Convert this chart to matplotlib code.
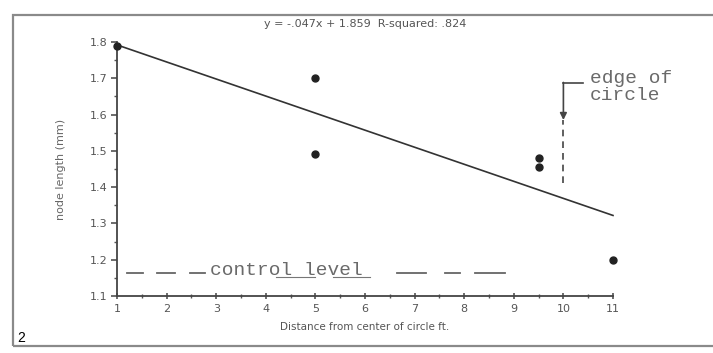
import matplotlib
matplotlib.use("Agg")
import matplotlib.pyplot as plt
from matplotlib.patches import Rectangle
from matplotlib.ticker import MultipleLocator

# Data
dist_ft = [1, 5, 5, 9.5, 9.5, 11]
node_len = [1.79, 1.70, 1.49, 1.48, 1.455, 1.20]
fit_x = [1, 11]
fit_y = [1.792, 1.322]
x_ticks = [1, 2, 3, 4, 5, 6, 7, 8, 9, 10, 11]
y_ticks = [1.1, 1.2, 1.3, 1.4, 1.5, 1.6, 1.7, 1.8]
control_level = 1.163
control_segments = [(1.2, 1.53), (1.81, 2.17), (2.47, 2.78),
                    (6.65, 7.22), (7.62, 7.92), (8.22, 8.82)]
edge_x = 10
title_text = "y = -.047x + 1.859  R-squared: .824"

W, H = 713, 353
fig = plt.figure(figsize=(W / 100, H / 100), dpi=100)
fig.patch.set_facecolor("white")

# outer scanned frame
fig.add_artist(Rectangle((13 / W, 1 - 346 / H), (720 - 13) / W, (346 - 15) / H,
                         transform=fig.transFigure, fill=False,
                         edgecolor="#8a8a8a", linewidth=1.6))

ax = fig.add_axes([117 / W, 1 - 296 / H, (613 - 117) / W, (296 - 42) / H])
ax.set_xlim(1, 11)
ax.set_ylim(1.1, 1.8)
for s in ["top", "right"]:
    ax.spines[s].set_visible(False)
for s in ["left", "bottom"]:
    ax.spines[s].set_color("#444444")
    ax.spines[s].set_linewidth(1.3)

ax.set_xticks(x_ticks)
ax.set_yticks(y_ticks)
ax.set_yticklabels([f"{v:.1f}" for v in y_ticks])
ax.xaxis.set_minor_locator(MultipleLocator(0.5))
ax.yaxis.set_minor_locator(MultipleLocator(0.05))
ax.tick_params(axis="y", which="major", direction="out", length=4, width=1.1,
               colors="#444444", labelcolor="#555555", labelsize=8, pad=3)
ax.tick_params(axis="y", which="minor", direction="out", length=2, width=1,
               colors="#555555")
ax.tick_params(axis="x", which="major", direction="inout", length=5, width=1.1,
               colors="#444444", labelcolor="#555555", labelsize=8, pad=3)
ax.tick_params(axis="x", which="minor", direction="inout", length=3, width=1,
               colors="#555555")

ax.set_xlabel("Distance from center of circle ft.", fontsize=7.5,
              color="#555555", labelpad=6)
ax.set_ylabel("node length (mm)", fontsize=8, color="#666666", labelpad=17)
ax.set_title(title_text, fontsize=8, color="#555555", pad=11)

# regression line
ax.plot(fit_x, fit_y, color="#333333", linewidth=1.2, clip_on=False)
# data points
ax.plot(dist_ft, node_len, "o", color="#222222", markersize=5.0, clip_on=False,
        zorder=5)

# control level
mono = "Liberation Mono"
for x0, x1 in control_segments:
    ax.plot([x0, x1], [control_level] * 2, color="#666666", linewidth=1.3)
ax.text(2.88, control_level - 0.004, "control level", fontsize=14, family=mono,
        color="#6a6a6a", ha="left", va="baseline")
ax.plot([4.2, 5.0], [control_level - 0.012] * 2, color="#777777", linewidth=0.8)
ax.plot([5.35, 6.1], [control_level - 0.012] * 2, color="#777777", linewidth=0.8)

# edge of circle
ax.plot([edge_x, edge_x], [1.411, 1.585], color="#444444", linewidth=1.2,
        dashes=(4, 3))
ax.plot([edge_x + 0.4, edge_x], [1.687, 1.687], color="#444444", linewidth=1.2)
ax.annotate("", xy=(edge_x, 1.585), xytext=(edge_x, 1.6885),
            arrowprops=dict(arrowstyle="-|>", color="#444444", lw=1.2,
                            mutation_scale=10, shrinkA=0, shrinkB=0))
ax.text(10.54, 1.722, "edge of\ncircle", fontsize=14, family=mono,
        color="#6a6a6a", ha="left", va="top", linespacing=0.95)

fig.text(17 / W, 1 - 345 / H, "2", fontsize=10, family="Liberation Sans",
         color="black", ha="left", va="bottom")

fig.savefig("out.png", dpi=100, facecolor="white")
